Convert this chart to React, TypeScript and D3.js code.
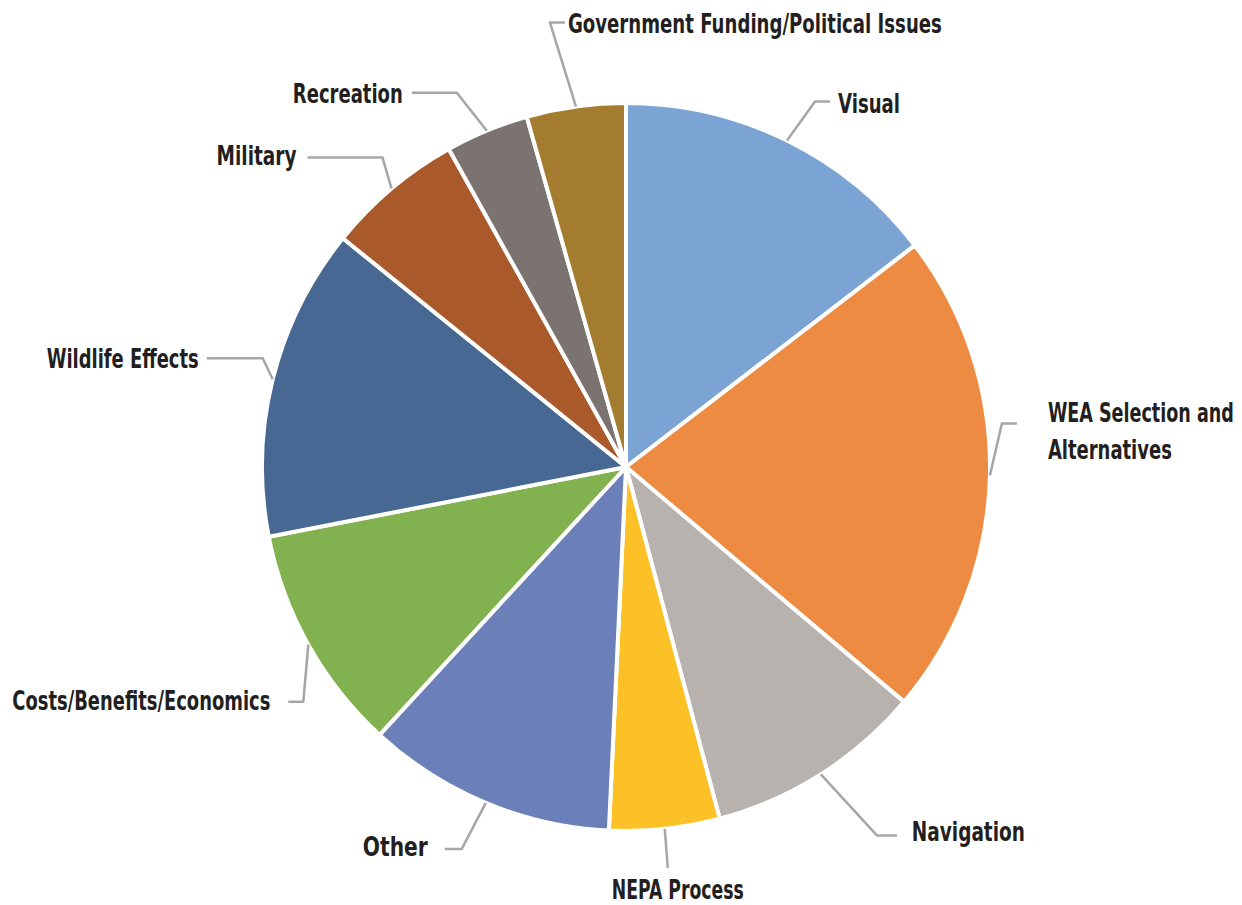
import React from "react";
import * as d3 from "d3";

const categories: string[] = [
  "Visual",
  "WEA Selection and Alternatives",
  "Navigation",
  "NEPA Process",
  "Other",
  "Costs/Benefits/Economics",
  "Wildlife Effects",
  "Military",
  "Recreation",
  "Government Funding/Political Issues",
];

const values: number[] = [14.6, 21.6, 9.7, 4.9, 11.1, 10.1, 13.9, 6.1, 3.7, 4.4];

const labelLines: string[][] = [
  ["Visual"],
  ["WEA Selection and", "Alternatives"],
  ["Navigation"],
  ["NEPA Process"],
  ["Other"],
  ["Costs/Benefits/Economics"],
  ["Wildlife Effects"],
  ["Military"],
  ["Recreation"],
  ["Government Funding/Political Issues"],
];

const colors: string[] = [
  "#7ba3d3",
  "#ee8b42",
  "#b8b2ae",
  "#fbc126",
  "#6b80b8",
  "#82b14f",
  "#466892",
  "#a9592a",
  "#7a7370",
  "#a47c2f",
];

// label layout (leader elbow offset from slice edge, horizontal leg, text gap, text widths, baseline offset, side)
type Layout = { dx: number; dy: number; h: number; gap: number; w: number[]; base: number; side: number; below?: boolean };
const labelLayout: Layout[] = [
  { dx: 28, dy: -39, h: 15, gap: 8, w: [62], base: 11, side: 1 },
  { dx: 12, dy: -52, h: 15, gap: 31, w: [186, 124], base: -2, side: 1 },
  { dx: 56, dy: 61, h: 20, gap: 15, w: [113], base: 6, side: 1 },
  { dx: 3, dy: 39, h: 0, gap: 0, w: [132], base: 31, side: 1, below: true },
  { dx: -24, dy: 46, h: 17, gap: 17, w: [65], base: 7, side: -1 },
  { dx: -5, dy: 57, h: 15, gap: 18, w: [258], base: 8, side: -1 },
  { dx: -10, dy: -21, h: 56, gap: 8, w: [152], base: 10, side: -1 },
  { dx: -9, dy: -31, h: 75, gap: 11, w: [80], base: 7, side: -1 },
  { dx: -30, dy: -38, h: 45, gap: 9, w: [110], base: 10, side: -1 },
  { dx: -26, dy: -84, h: 15, gap: 3, w: [374], base: 11, side: 1 },
];

const WIDTH = 1242;
const HEIGHT = 905;
const CX = 626;
const CY = 467;
const R = 364;
const FONT = "'Liberation Sans Narrow', 'Arial Narrow', 'DejaVu Sans Condensed', sans-serif";

export default function App() {
  const pie = d3
    .pie<number>()
    .sort(null)
    .value((d) => d)
    .startAngle(0)
    .endAngle(2 * Math.PI);
  const arcs = pie(values);
  const arc = d3.arc<d3.PieArcDatum<number>>().innerRadius(0).outerRadius(R);

  return (
    <svg
      width={WIDTH}
      height={HEIGHT}
      style={{ position: "absolute", left: 0, top: 0, background: "#fff" }}
    >
      <rect x={0} y={0} width={WIDTH} height={HEIGHT} fill="#fff" />
      <g transform={`translate(${CX},${CY})`}>
        {arcs.map((a, i) => (
          <path key={categories[i]} d={arc(a) || ""} fill={colors[i]} stroke="#fff" strokeWidth={4} strokeLinejoin="round" />
        ))}
      </g>
      {arcs.map((a, i) => {
        const L = labelLayout[i];
        const mid = (a.startAngle + a.endAngle) / 2;
        const ex = CX + R * Math.sin(mid);
        const ey = CY - R * Math.cos(mid);
        const bx = ex + L.dx;
        const by = ey + L.dy;
        const dir = L.side;
        const right = dir > 0;
        const hx = bx + dir * L.h;
        const lines = labelLines[i];
        if (L.below) {
          return (
            <g key={categories[i]}>
              <polyline points={`${ex},${ey} ${bx},${by}`} fill="none" stroke="#a6a6a6" strokeWidth={2.5} />
              <text
                x={bx + 10}
                y={by + L.base}
                textAnchor="middle"
                fontFamily={FONT}
                fontWeight="bold"
                fontSize={26}
                fill="#231f20"
                textLength={L.w[0]}
                lengthAdjust="spacingAndGlyphs"
              >
                {lines[0]}
              </text>
            </g>
          );
        }
        const tx = hx + dir * L.gap;
        return (
          <g key={categories[i]}>
            <polyline
              points={`${ex},${ey} ${bx},${by} ${hx},${by}`}
              fill="none"
              stroke="#a6a6a6"
              strokeWidth={2.5}
              strokeLinejoin="round"
            />
            {lines.map((ln, j) => (
              <text
                key={ln}
                x={tx}
                y={by + L.base + j * 37}
                textAnchor={right ? "start" : "end"}
                fontFamily={FONT}
                fontWeight="bold"
                fontSize={26}
                fill="#231f20"
                textLength={L.w[j]}
                lengthAdjust="spacingAndGlyphs"
              >
                {ln}
              </text>
            ))}
          </g>
        );
      })}
    </svg>
  );
}
